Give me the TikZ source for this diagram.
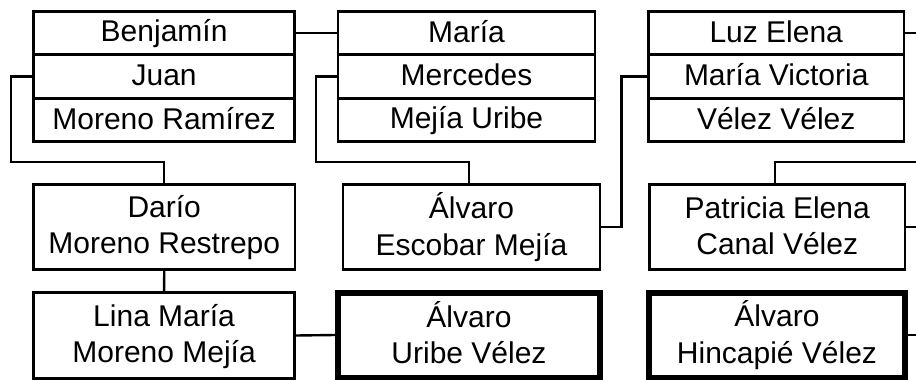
\documentclass[tikz,border=0pt]{standalone}
\usepackage{fontspec}
\setmainfont{Liberation Sans}
\newcommand\st{\rule[-5pt]{0pt}{28.7pt}}
\begin{document}
\begin{tikzpicture}[x=1pt,y=-1pt,
  box/.style={draw,line width=2.8pt,inner sep=0pt,align=center,
    font=\fontsize{30}{36.3}\selectfont},
  thickbox/.style={box,line width=6pt},
  conn/.style={line width=2.4pt},
]
\useasboundingbox (0,0) rectangle (916,380);
\coordinate (rr) at (916,0);
% top three-row boxes
\node[box,minimum width=261.2pt,minimum height=43.33pt] (a1) at (164.1,33.17) {\st Benjamín};
\node[box,minimum width=261.2pt,minimum height=43.33pt] (a2) at (164.1,76.5) {\st Juan};
\node[box,minimum width=261.2pt,minimum height=43.33pt] (a3) at (164.1,119.83) {\st Moreno Ramírez};
\node[box,minimum width=257pt,minimum height=43.33pt] (b1) at (466.5,33.17) {\st María};
\node[box,minimum width=257pt,minimum height=43.33pt] (b2) at (466.5,76.5) {\st Mercedes};
\node[box,minimum width=257pt,minimum height=43.33pt] (b3) at (466.5,119.83) {\st Mejía Uribe};
\node[box,minimum width=255.5pt,minimum height=43.33pt] (c1) at (776.25,33.17) {\st Luz Elena};
\node[box,minimum width=255.5pt,minimum height=43.33pt] (c2) at (776.25,76.5) {\st María Victoria};
\node[box,minimum width=255.5pt,minimum height=43.33pt] (c3) at (776.25,119.83) {\st Vélez Vélez};
% middle row
\node[box,minimum width=261.5pt,minimum height=85pt] (dario) at (164.25,227) {\st Darío\\\st Moreno Restrepo};
\node[box,minimum width=257pt,minimum height=85pt] (escobar) at (471.5,227) {\st Álvaro\\\st Escobar Mejía};
\node[box,minimum width=255.5pt,minimum height=85pt] (pat) at (777.25,227) {\st Patricia Elena\\\st Canal Vélez};
% bottom row
\node[box,minimum width=261.2pt,minimum height=86pt] (lina) at (164.1,335.5) {\st Lina María\\\st Moreno Mejía};
\node[thickbox,minimum width=262pt,minimum height=85pt] (uribe) at (469,335) {\st Álvaro\\\st Uribe Vélez};
\node[thickbox,minimum width=256pt,minimum height=85pt] (hinc) at (777,335) {\st Álvaro\\\st Hincapié Vélez};
% connectors
\draw[conn] (a1.east) -- (b1.west);
\draw[conn] (a2.west) -| (11,162) -| (dario.north);
\draw[conn] (b2.west) -| (316,162) -| ([xshift=-2.5pt]escobar.north);
\draw[conn] (escobar.east) -| (621.5,76.5) -- (c2.west);
\draw[conn] (c1.east) -- (c1.east -| rr);
\draw[conn] ([xshift=-2.25pt]pat.north) |- (916,162);
\draw[conn] (pat.east) -- (pat.east -| rr);
\draw[conn] (dario.south) -- (lina.north);
\draw[conn] (lina.east) -- (uribe.west);
\draw[conn] (hinc.east) -- (hinc.east -| rr);
\end{tikzpicture}
\end{document}
